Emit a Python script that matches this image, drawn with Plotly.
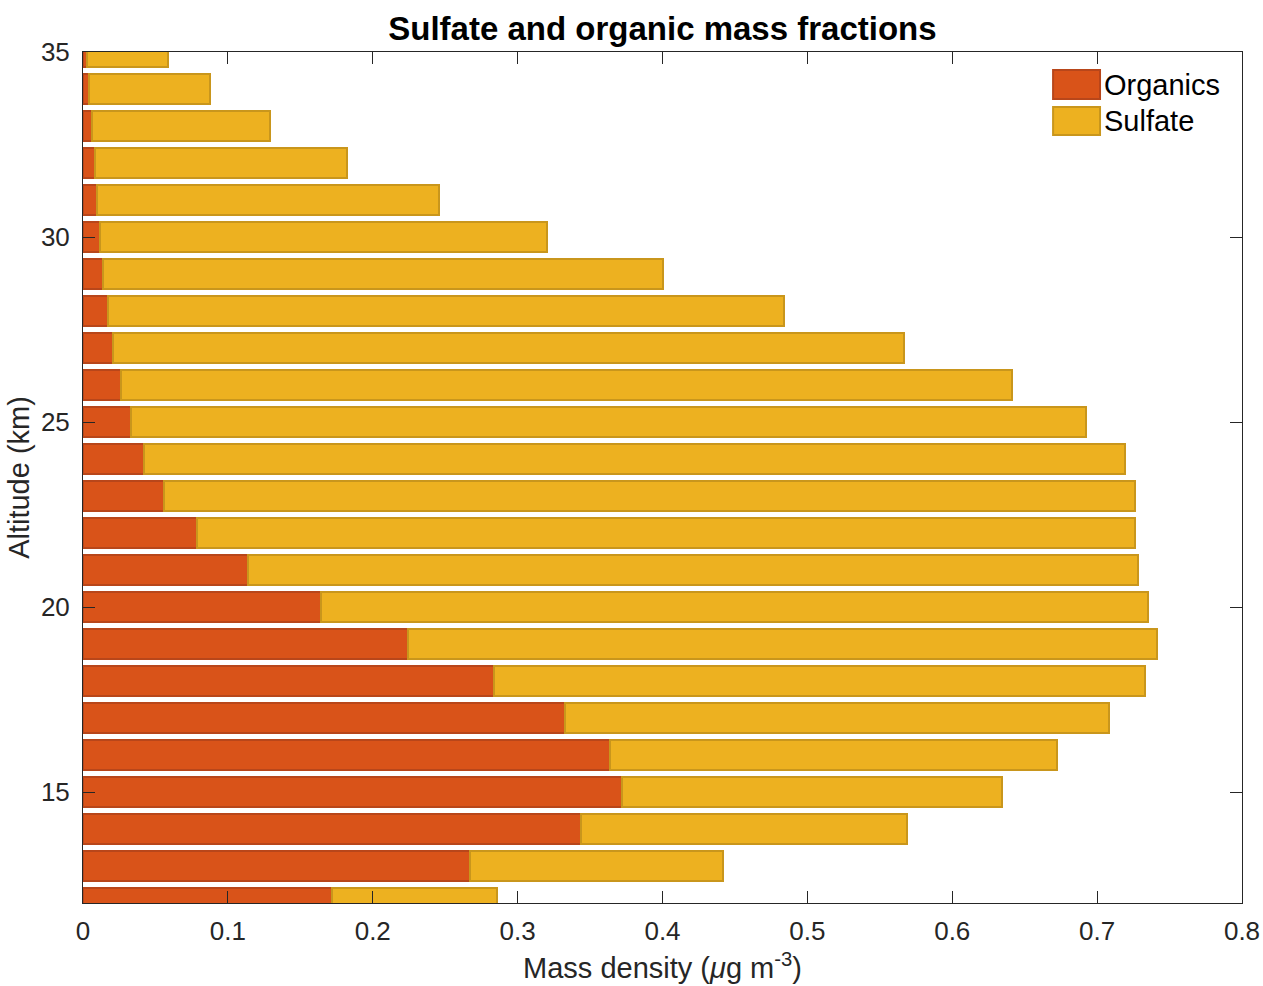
import plotly.graph_objects as go

# Altitude levels (km) and mass densities (ug m^-3)
altitude = [12, 13, 14, 15, 16, 17, 18, 19, 20, 21, 22, 23,
            24, 25, 26, 27, 28, 29, 30, 31, 32, 33, 34, 35]
organics = [0.172, 0.267, 0.344, 0.372, 0.364, 0.333, 0.284, 0.224,
            0.164, 0.114, 0.079, 0.056, 0.042, 0.033, 0.026, 0.021,
            0.017, 0.014, 0.012, 0.010, 0.008, 0.006, 0.004, 0.003]
sulfate = [0.114, 0.175, 0.225, 0.262, 0.308, 0.375, 0.449, 0.517,
           0.571, 0.614, 0.647, 0.670, 0.677, 0.659, 0.615, 0.546,
           0.467, 0.386, 0.308, 0.236, 0.174, 0.123, 0.084, 0.056]
x_ticks = [0, 0.1, 0.2, 0.3, 0.4, 0.5, 0.6, 0.7, 0.8]
x_tick_text = ["0", "0.1", "0.2", "0.3", "0.4", "0.5", "0.6", "0.7", "0.8"]
y_ticks = [15, 20, 25, 30, 35]

ORG_FILL, ORG_EDGE = "#D95319", "#B8461A"
SUL_FILL, SUL_EDGE = "#EDB120", "#C9961C"
FONT = "Liberation Sans, Arial, Helvetica, sans-serif"
INK = "#262626"

fig = go.Figure()
fig.add_trace(go.Bar(
    y=altitude, x=organics, orientation="h", name="Organics", width=0.8,
    marker=dict(color=ORG_FILL, line=dict(color=ORG_EDGE, width=2)),
    showlegend=False))
fig.add_trace(go.Bar(
    y=altitude, x=sulfate, orientation="h", name="Sulfate", width=0.8,
    marker=dict(color=SUL_FILL, line=dict(color=SUL_EDGE, width=2)),
    showlegend=False))

# Legend drawn as swatches + labels in the top-right corner
legend_items = [("Organics", ORG_FILL, ORG_EDGE, 0.9788, 0.9448),
                ("Sulfate", SUL_FILL, SUL_EDGE, 0.9354, 0.9025)]
for label, fill, edge, y1, y0 in legend_items:
    fig.add_shape(type="rect", xref="paper", yref="paper",
                  x0=0.837, x1=0.8775, y0=y0, y1=y1,
                  fillcolor=fill, line=dict(color=edge, width=2))
    fig.add_annotation(xref="paper", yref="paper", x=0.8795, y=(y0 + y1) / 2,
                       text=label, showarrow=False, xanchor="left",
                       yanchor="middle", font=dict(family=FONT, size=29, color="black"))

fig.update_layout(
    width=1263, height=986,
    barmode="stack", bargap=0.2,
    plot_bgcolor="white", paper_bgcolor="white",
    margin=dict(l=83, r=21, t=52, b=83),
    font=dict(family=FONT, size=26, color=INK),
    title=dict(text="<b>Sulfate and organic mass fractions</b>",
               x=0.5245, xanchor="center", y=0.9715, yanchor="middle",
               font=dict(family=FONT, size=33, color="black")),
)
fig.update_xaxes(
    range=[0, 0.8], tickvals=x_ticks, ticktext=x_tick_text,
    ticks="inside", ticklen=12, tickwidth=1, tickcolor=INK,
    showline=True, linecolor=INK, linewidth=1, mirror="ticks",
    showgrid=False, zeroline=False, automargin=False,
    ticklabelstandoff=5,
    tickfont=dict(family=FONT, size=26, color=INK),
    title=dict(text="Mass density (<i>μ</i>g m<sup>-3</sup>)", standoff=12,
               font=dict(family=FONT, size=29, color=INK)),
)
fig.update_yaxes(
    range=[12, 35], tickvals=y_ticks,
    ticks="inside", ticklen=12, tickwidth=1, tickcolor=INK,
    showline=True, linecolor=INK, linewidth=1, mirror="ticks",
    showgrid=False, zeroline=False, automargin=False,
    ticklabelstandoff=7,
    tickfont=dict(family=FONT, size=26, color=INK),
    title=dict(text="Altitude (km)", standoff=2,
               font=dict(family=FONT, size=29, color=INK)),
)

fig.write_html("out.html")
